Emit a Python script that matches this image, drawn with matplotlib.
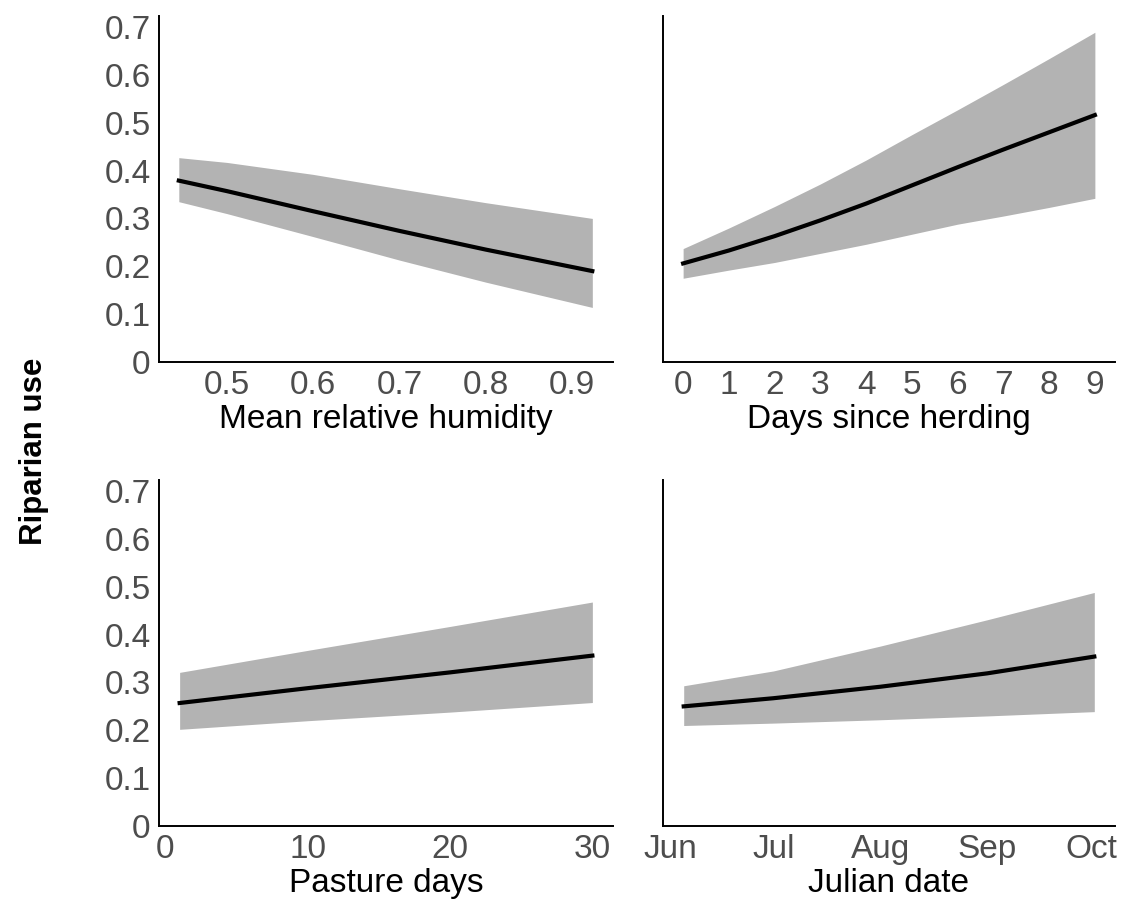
import matplotlib
matplotlib.use("Agg")
import matplotlib.pyplot as plt

plt.rcParams["font.family"] = ["Liberation Sans", "DejaVu Sans"]

# mean relative humidity
humidity = [0.444, 0.5, 0.6, 0.7, 0.8, 0.924]
humidity_fit = [0.379, 0.357, 0.315, 0.274, 0.235, 0.190]
humidity_lo = [0.335, 0.310, 0.262, 0.213, 0.167, 0.114]
humidity_hi = [0.427, 0.417, 0.392, 0.362, 0.333, 0.300]

# days since herding
herding = [0, 1, 2, 3, 4, 5, 6, 7, 8, 9]
herding_fit = [0.206, 0.233, 0.263, 0.296, 0.331, 0.369, 0.407, 0.444, 0.480, 0.516]
herding_lo = [0.175, 0.192, 0.208, 0.227, 0.246, 0.267, 0.288, 0.305, 0.323, 0.342]
herding_hi = [0.237, 0.280, 0.325, 0.372, 0.422, 0.475, 0.527, 0.580, 0.634, 0.689]

# pasture days
pasture = [1, 10, 20, 30]
pasture_fit = [0.257, 0.288, 0.321, 0.356]
pasture_lo = [0.202, 0.220, 0.238, 0.258]
pasture_hi = [0.321, 0.367, 0.417, 0.468]

# julian date
julian = [156, 182, 213, 244, 275]
julian_fit = [0.250, 0.267, 0.291, 0.319, 0.354]
julian_lo = [0.210, 0.215, 0.222, 0.230, 0.239]
julian_hi = [0.293, 0.324, 0.376, 0.431, 0.488]
month_ticks = [152, 182, 213, 244, 274]
month_labels = ["Jun", "Jul", "Aug", "Sep", "Oct"]

y_ticks = [0, 0.1, 0.2, 0.3, 0.4, 0.5, 0.6, 0.7]
y_labels = ["0", "0.1", "0.2", "0.3", "0.4", "0.5", "0.6", "0.7"]

fig = plt.figure(figsize=(11.38, 9.01), dpi=100)
W, H = 1138, 901


def make_axes(x0, x1, y_top, y_bot):
    return fig.add_axes([x0 / W, 1 - y_bot / H, (x1 - x0) / W, (y_bot - y_top) / H])


panels = [
    (make_axes(159, 613, 16, 362), humidity, humidity_fit, humidity_lo, humidity_hi,
     "Mean relative humidity", (0.421, 0.948), True),
    (make_axes(663, 1115, 16, 362), herding, herding_fit, herding_lo, herding_hi,
     "Days since herding", (-0.44, 9.44), False),
    (make_axes(159, 613, 480, 826), pasture, pasture_fit, pasture_lo, pasture_hi,
     "Pasture days", (-0.45, 31.45), True),
    (make_axes(663, 1115, 480, 826), julian, julian_fit, julian_lo, julian_hi,
     "Julian date", (150, 281), False),
]

for ax, x, fit, lo, hi, label, xlim, show_y in panels:
    ax.fill_between(x, lo, hi, color="#b3b3b3", linewidth=0)
    ax.plot(x, fit, color="black", linewidth=3)
    ax.set_xlim(*xlim)
    ax.set_ylim(0, 0.723)
    ax.spines["top"].set_visible(False)
    ax.spines["right"].set_visible(False)
    ax.spines["left"].set_linewidth(1.4)
    ax.spines["bottom"].set_linewidth(1.4)
    ax.tick_params(length=0, labelsize=24, labelcolor="#4d4d4d", pad=6)
    ax.set_yticks(y_ticks)
    if show_y:
        ax.set_yticklabels(y_labels)
    else:
        ax.set_yticklabels([])
    ax.set_xlabel(label, fontsize=24, labelpad=2)

panels[0][0].set_xticks([0.5, 0.6, 0.7, 0.8, 0.9])
panels[0][0].set_xticklabels(["0.5", "0.6", "0.7", "0.8", "0.9"])
panels[1][0].set_xticks(herding)
panels[2][0].set_xticks([0, 10, 20, 30])
panels[3][0].set_xticks(month_ticks)
panels[3][0].set_xticklabels(month_labels)

fig.text(34 / W, 1 - 451 / H, "Riparian use", rotation=90, fontsize=22.5,
         fontweight="bold", ha="center", va="center")

fig.savefig("out.png", dpi=100)
